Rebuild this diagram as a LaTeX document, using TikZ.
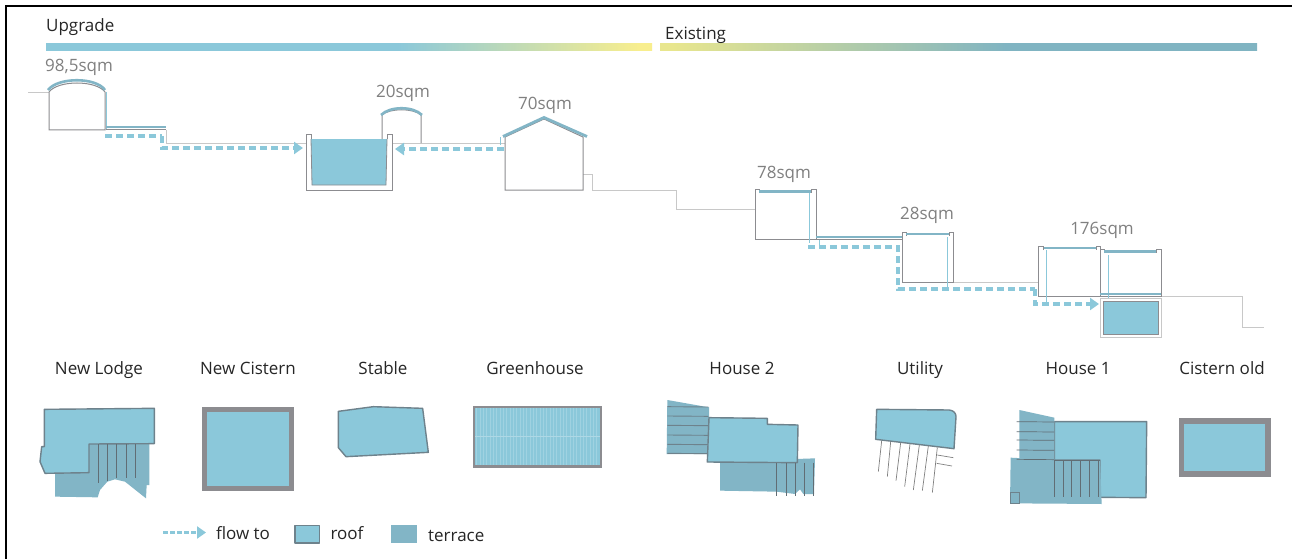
\documentclass[tikz,border=0pt]{standalone}
\usepackage{fontspec}
\setmainfont{Open Sans}
\usetikzlibrary{arrows.meta}
\definecolor{roofc}{HTML}{8BC8DA}
\definecolor{terr}{HTML}{82B5C6}
\definecolor{edgec}{HTML}{6E828C}
\definecolor{wallc}{HTML}{8C8C90}
\definecolor{groundc}{HTML}{C8C8C8}
\definecolor{labelc}{HTML}{808080}
\definecolor{yellowa}{HTML}{F8EE8E}
\definecolor{yellowb}{HTML}{E8E68E}
\definecolor{barb}{HTML}{80B4C2}
\pgfdeclarehorizontalshading{upgshade}{100bp}{color(0bp)=(roofc); color(54bp)=(roofc); color(74bp)=(yellowa); color(100bp)=(yellowa)}
\pgfdeclarehorizontalshading{exishade}{100bp}{color(0bp)=(yellowb); color(26bp)=(yellowb); color(54bp)=(barb); color(100bp)=(barb)}
\tikzset{
  wall/.style={draw=wallc,line width=1pt},
  ground/.style={draw=groundc,line width=0.9pt},
  roofline/.style={draw=terr,line width=2.6pt},
  pipe/.style={draw=roofc,line width=1pt},
  flow/.style={draw=roofc,line width=3.4pt,dash pattern=on 7pt off 4pt},
  flowend/.style={flow,-{Triangle[length=9pt,width=12pt,fill=roofc]}},
  area/.style={font=\fontsize{17}{20}\selectfont,text=labelc,inner sep=0pt,anchor=base},
  title/.style={font=\fontsize{17}{20}\selectfont,text=black!85,inner sep=0pt,anchor=base},
  planroof/.style={fill=roofc,draw=edgec,line width=1.4pt,line join=round},
  step line/.style={draw=black!70!cyan!60!gray,line width=0.7pt},
  zoomA/.style={xshift=20pt,yshift=-350pt,x=0.33333pt,y=-0.33333pt},
  zoomB/.style={xshift=460pt,yshift=-350pt,x=0.33333pt,y=-0.33333pt},
  zoomC/.style={xshift=860pt,yshift=-350pt,x=0.33333pt,y=-0.33333pt},
}
\begin{document}
\begin{tikzpicture}[x=1pt,y=-1pt]
\useasboundingbox (0,0) rectangle (1292,559);
\fill[white] (0,0) rectangle (1292,559);
% frame
\draw[black,line width=1.6pt] (6,559) -- (6,6) -- (1292,6);
% gradient bars
\path[shading=upgshade] (46,44) rectangle (652,51);
\path[shading=exishade] (660,44) rectangle (1257,51);
\node[title,anchor=base west] (upgrade) at (46,32) {Upgrade};
\node[title,anchor=base west] (existing) at (665,40) {Existing};
% ground lines
\draw[ground] (28,92) -- (49,92);
\draw[ground] (166,130) -- (166,143) -- (306,143);
\draw[ground] (392,143) -- (505,143);
\draw[ground] (583,174) -- (592,174) -- (592,190) -- (676,190) -- (676,209) -- (755,209);
\draw[ground] (953,282) -- (1038,282);
\draw[ground] (1161,296) -- (1242,296) -- (1242,327) -- (1264,327);
% New lodge section
\draw[wall] (105,92) -- (105,130) -- (49,130) -- (49,92) .. controls (58,80) and (96,80) .. (105,92);
\draw[roofline] (48,90) .. controls (58,77) and (96,77) .. (105,90);
\draw[pipe] (106,92) -- (106,129);
\draw[roofline] (106,127) -- (166,127);
\draw[wall,line width=0.7pt] (106,129) -- (166,129);
% cistern section
\fill[roofc] (311,139) -- (387,139) -- (386,185) -- (312,185) -- cycle;
\draw[draw=wallc,line width=0.8pt] (311,139) -- (312,185) -- (386,185) -- (387,139);
\draw[wall] (311,139) -- (311,134) -- (306,134) -- (306,190) -- (392,190) -- (392,134) -- (387,134) -- (387,139);
% stable section
\draw[wall] (382,139) -- (382,115) .. controls (390,108) and (413,108) .. (421,115) -- (421,143);
\draw[roofline] (381,115) .. controls (390,106) and (413,106) .. (422,115);
% greenhouse section
\draw[wall] (505,137) -- (544,119) -- (583,137) -- (583,190) -- (505,190) -- cycle;
\draw[roofline,line width=2.8pt] (503,136.5) -- (544,117.5) -- (587,136.5);
\draw[pipe,line width=0.7pt] (500,137) -- (500,145);
% house 2 section
\draw[wall] (759,193) -- (759,189) -- (755,189) -- (755,239) -- (816,239) -- (816,189) -- (811,189) -- (811,193);
\draw[roofline] (759,191.5) -- (811,191.5);
\draw[pipe] (809,193) -- (809,243);
\draw[pipe] (819,239) -- (819,245);
\draw[roofline] (816,237) -- (902,237);
\draw[wall,line width=0.7pt] (816,239) -- (902,239);
% utility section
\draw[wall] (906,236) -- (906,232) -- (902,232) -- (902,282) -- (953,282) -- (953,232) -- (949,232) -- (949,236);
\draw[roofline] (906,234) -- (949,234);
\draw[pipe] (947,237) -- (947,287);
% house 1 section
\draw[wall] (1043,250) -- (1043,246) -- (1038,246) -- (1038,296) -- (1100,296) -- (1100,246) -- (1096,246) -- (1096,250);
\draw[roofline] (1044,248) -- (1096,248);
\draw[pipe] (1046,250) -- (1046,302);
\draw[wall] (1104,253) -- (1104,249) -- (1100,249) -- (1100,296) -- (1161,296) -- (1161,249) -- (1156,249) -- (1156,253);
\draw[roofline] (1104,251.5) -- (1156,251.5);
\draw[pipe] (1108,255) -- (1108,300);
\draw[roofline] (1100,294) -- (1161,294);
% old cistern section
\draw[groundc,line width=1pt,fill=white] (1100,298) rectangle (1161,337);
\draw[fill=roofc,draw=wallc,line width=0.8pt] (1103,301) rectangle (1158,334);
% area labels
\node[area] (a1) at (79,72) {98,5sqm};
\node[area] (a2) at (403,98) {20sqm};
\node[area] (a3) at (545,110) {70sqm};
\node[area] (a4) at (784,178) {78sqm};
\node[area] (a5) at (927,219) {28sqm};
\node[area] (a6) at (1102,234) {176sqm};
% flow connectors
\coordinate (p1) at (105,136); \coordinate (p2) at (162,136); \coordinate (p3) at (162,148); \coordinate (p4) at (303,148);
\coordinate (q1) at (504,149); \coordinate (q2) at (395,149);
\coordinate (r1) at (808,247); \coordinate (r2) at (898,247); \coordinate (r3) at (898,289); \coordinate (r4) at (1035,289); \coordinate (r5) at (1035,304); \coordinate (r6) at (1099,304);
\draw[flow] (p1) -- (p2);
\draw[flowend] (p2) -- (p3) -- (p4);
\draw[flowend] (q1) -- (q2);
\draw[flow] (r1) -- (r2) -- (r3) -- (r4);
\draw[flowend] (r4) -- (r5) -- (r6);
% plan titles
\foreach \n/\x/\t in {n1/99/New Lodge,n2/248/New Cistern,n3/383/Stable,n4/535/Greenhouse,n5/742/House 2,n6/920/Utility,n7/1078/House 1,n8/1222/Cistern old}
  \node[title] (\n) at (\x,374) {\t};
% New Lodge plan, Cistern, Stable
\begin{scope}[zoomA]
\fill[terr] (105,370) -- (105,440) -- (233,442) -- (240,420) -- (262,395) -- (285,388) -- (315,395) -- (378,445) -- (380,405) -- (388,405) -- (388,282) -- (205,282) -- cycle;
\draw[planroof] (73,178) -- (403,175) -- (403,281) -- (207,282) -- (207,368) -- (75,370) -- (60,335) -- (65,290) -- (73,290) -- cycle;
\foreach \x/\y in {234/398,262/392,290/385,318/385,346/385} \draw[step line] (\x,282) -- (\x,\y);
\fill[wallc] (545,170) rectangle (822,423);
\fill[roofc] (560,185) rectangle (806,408);
\draw[planroof] (955,184) -- (1060,170) -- (1208,175) -- (1225,307) -- (978,320) -- (955,293) -- cycle;
% legend swatches
\draw[planroof] (825,527) rectangle (899,579);
\fill[terr] (1113,525) rectangle (1190,580);
\end{scope}
% legend
\coordinate (l1) at (163,532.5); \coordinate (l2) at (206,532.5);
\draw[flowend,line width=2.8pt,dash pattern=on 5pt off 2pt] (l1) -- (l2);
\node[title] (t1) at (243,539) {flow to};
\node[title] (t2) at (347,539) {roof};
\node[title,anchor=base west] (t3) at (428,541) {terrace};
% Greenhouse, House 2
\begin{scope}[zoomB]
\fill[wallc] (40,167) rectangle (425,353);
\fill[roofc] (45,175) rectangle (420,346);
\foreach \x in {50,60,...,415} \draw[roofc!82!white,line width=0.35pt] (\x,175) -- (\x,346);
\draw[roofc!70!white,line width=0.5pt] (45,258) -- (420,258);
\fill[terr] (622,150) -- (747,172) -- (747,312) -- (620,312) -- cycle;
\foreach \y in {170,198,226,255,283,310} \draw[edgec,line width=0.9pt] (622,\y) -- (745,\y+1);
\fill[terr] (780,335) -- (1065,325) -- (1062,432) -- (1030,432) -- (1020,418) -- (1005,432) -- (950,425) -- (780,422) -- cycle;
\draw[planroof] (747,203) -- (922,205) -- (922,223) -- (1014,225) -- (1012,338) -- (742,336) -- cycle;
\foreach \x in {950,978,1006,1034,1060} \draw[step line] (\x,338) -- (\x,438);
\end{scope}
% Utility, House 1, Cistern old
\begin{scope}[zoomC]
\draw[planroof] (50,178) -- (268,180) .. controls (282,182) and (288,190) .. (288,200) -- (282,296) -- (47,268) -- cycle;
\foreach \a/\b/\c/\d in {65/272/55/365,92/275/82/380,122/278/108/392,150/282/134/410,178/285/160/420,205/288/187/422,232/292/217/428,232/315/280/323,230/340/276/348}
  \draw[draw=black!50,line width=0.7pt] (\a,\b) -- (\c,\d);
\draw[planroof] (583,215) -- (860,215) -- (858,443) -- (720,442) -- (720,330) -- (583,330) -- cycle;
\fill[terr] (478,180) -- (583,203) -- (583,330) -- (478,328) -- cycle;
\fill[terr] (452,323) -- (583,330) -- (720,330) -- (725,462) -- (450,460) -- cycle;
\foreach \y in {215,245,270,300,328} \draw[step line] (470,\y) -- (582,\y+1);
\foreach \x in {583,610,635,662,688,716} \draw[step line] (\x,330) -- (\x,442);
\draw[step line] (583,330) -- (720,330);
\draw[edgec,line width=0.7pt] (450,428) rectangle (478,460);
\fill[wallc] (957,205) rectangle (1232,380);
\fill[roofc] (973,221) rectangle (1216,364);
\end{scope}
\end{tikzpicture}
\end{document}
